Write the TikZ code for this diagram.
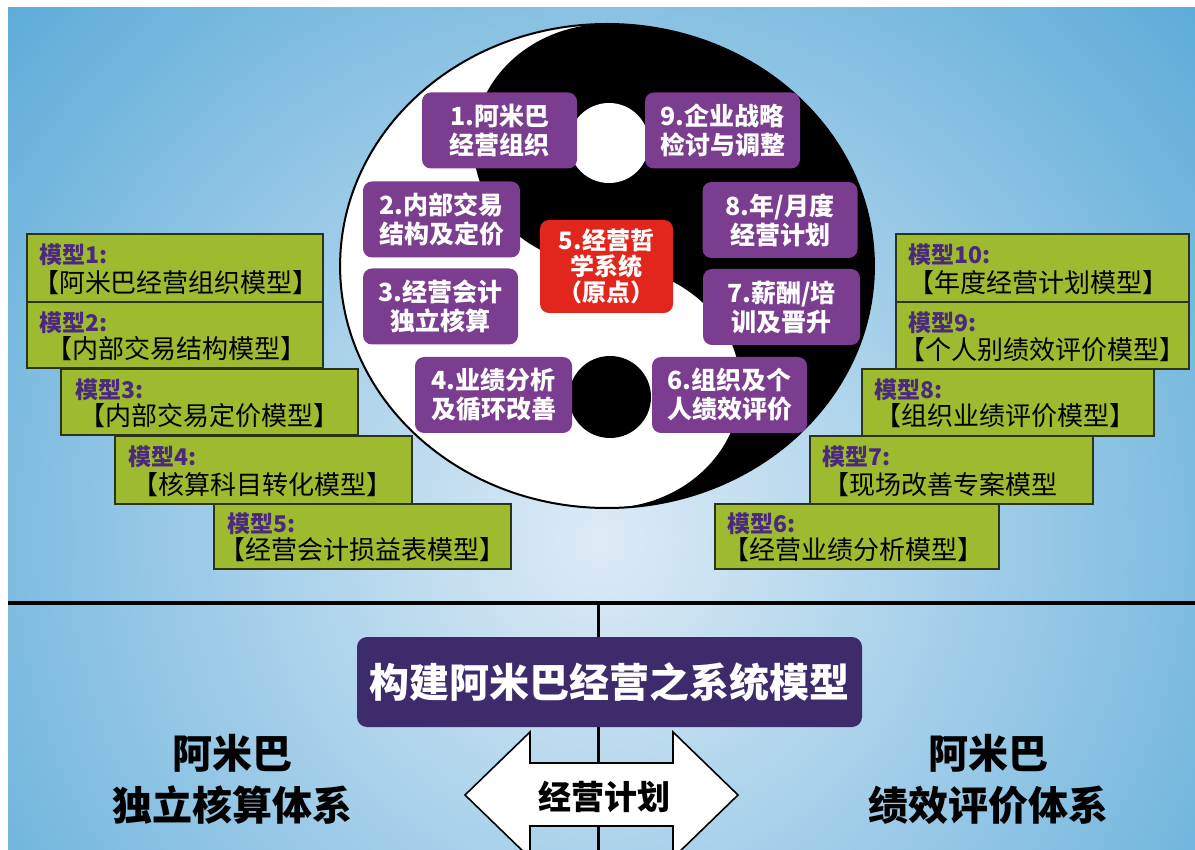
\documentclass[tikz,border=0pt]{standalone}
\usepackage{fontspec}
\setmainfont{Noto Sans CJK SC}
\definecolor{bgin}{HTML}{DDEBF6}
\definecolor{bgout}{HTML}{2590CC}
\definecolor{ypurple}{HTML}{7B3D8F}
\definecolor{yred}{HTML}{E2261D}
\definecolor{mpurple}{HTML}{3D2B6B}
\definecolor{mgreen}{HTML}{9EBB30}
\definecolor{mborder}{HTML}{2B3318}
\definecolor{mhead}{HTML}{4B2A7E}
\begin{document}
\begin{tikzpicture}[x=1pt,y=-1pt,
  ybox/.style={fill=ypurple, rounded corners=9pt, text=white,
    font=\fontsize{25}{29}\selectfont\bfseries, align=center, inner sep=0pt,
    minimum width=155pt, minimum height=76pt},
  mbox/.style={fill=mgreen, draw=mborder, line width=1.6pt, anchor=north west,
    inner sep=0pt, minimum width=#1},
  mhd/.style={anchor=west, text=mhead, font=\fontsize{23}{26}\selectfont\bfseries, inner sep=0pt},
  mtx/.style={text=black, font=\fontsize{26}{30}\selectfont, inner sep=0pt},
  systxt/.style={text=black, font=\fontsize{40}{52}\selectfont\bfseries, align=center, inner sep=0pt},
  connline/.style={draw=black, line width=3pt}
]
\useasboundingbox (0,0) rectangle (1195,850);
% background
\begin{scope}
  \clip (8,8) rectangle (1195,850);
  \shade[inner color=bgin, outer color=bgout] (600,540) circle (1150pt);
\end{scope}

% yin-yang
\begin{scope}[shift={(607,266)}, y=1pt, xscale=1.103]
  \filldraw[fill=white, draw=black, line width=2pt] (0,0) circle (242pt);
  \fill[black] (0,242) arc[start angle=90,end angle=-90,radius=242pt]
     arc[start angle=-90,end angle=90,radius=121pt]
     arc[start angle=270,end angle=90,radius=121pt] -- cycle;
\end{scope}
\fill[white] (609,143) circle (40pt);
\fill[black] (610,397) circle (41pt);

% purple boxes
\node[ybox] (b1) at (499.5,130.5) {1.阿米巴\\经营组织};
\node[ybox] (b9) at (722.5,130.5) {9.企业战略\\检讨与调整};
\node[ybox, minimum width=157pt] (b2) at (441.5,219.5) {2.内部交易\\结构及定价};
\node[ybox] (b8) at (780,220) {8.年/月度\\经营计划};
\node[ybox, fill=yred, minimum width=133pt, minimum height=93pt,
  font=\fontsize{24}{26}\selectfont\bfseries] (b5) at (606.5,266.5) {5.经营哲\\学系统\\（原点）};
\node[ybox] (b3) at (440.5,306.5) {3.经营会计\\独立核算};
\node[ybox, minimum width=157pt] (b7) at (781.5,307) {7.薪酬/培\\训及晋升};
\node[ybox, minimum width=157pt] (b4) at (493.5,395) {4.业绩分析\\及循环改善};
\node[ybox] (b6) at (729.5,395) {6.组织及个\\人绩效评价};

% left model boxes
\node[mbox=296pt, minimum height=68pt] (m1) at (26,233) {};
\node[mbox=296pt, minimum height=66pt] (m2) at (26,301) {};
\node[mbox=297pt, minimum height=66pt] (m3) at (60,368) {};
\node[mbox=297pt, minimum height=68pt] (m4) at (114,435) {};
\node[mbox=297pt, minimum height=65pt] (m5) at (213,503) {};
\node[mhd] (h1) at (39,255) {模型1:};
\node[mtx] (t1) at (176,283) {【阿米巴经营组织模型】};
\node[mhd] (h2) at (39,323) {模型2:};
\node[mtx] (t2) at (176,349) {【内部交易结构模型】};
\node[mhd] (h3) at (75,390) {模型3:};
\node[mtx] (t3) at (209,416) {【内部交易定价模型】};
\node[mhd] (h4) at (128,457) {模型4:};
\node[mtx] (t4) at (262,485) {【核算科目转化模型】};
\node[mhd] (h5) at (227,524) {模型5:};
\node[mtx] (t5) at (362,550) {【经营会计损益表模型】};

% right model boxes
\node[mbox=293pt, minimum height=68pt] (m10) at (895,233) {};
\node[mbox=293pt, minimum height=67pt] (m9) at (895,301) {};
\node[mbox=292pt, minimum height=67pt] (m8) at (861,368) {};
\node[mbox=283pt, minimum height=68pt] (m7) at (809,435) {};
\node[mbox=284pt, minimum height=65pt] (m6) at (714,503) {};
\node[mhd] (h10) at (908,255) {模型10:};
\node[mtx] (t10) at (1038,283) {【年度经营计划模型】};
\node[mhd] (h9) at (908,323) {模型9:};
\node[mtx] (t9) at (1042,350) {【个人别绩效评价模型】};
\node[mhd] (h8) at (874,390) {模型8:};
\node[mtx] (t8) at (1005,416) {【组织业绩评价模型】};
\node[mhd] (h7) at (822,457) {模型7:};
\node[mtx] (t7) at (940,485) {【现场改善专案模型};
\node[mhd] (h6) at (727,524) {模型6:};
\node[mtx] (t6) at (853,550) {【经营业绩分析模型】};

% lines
\coordinate (hl) at (8,603);
\coordinate (hr) at (1195,603);
\coordinate (vt) at (598,603);
\coordinate (vb) at (598,850);
\draw[connline, line width=4.5pt] (hl) -- (hr);
\draw[connline] (vt) -- (vb);

% main box
\node[fill=mpurple, rounded corners=10pt, minimum width=505pt, minimum height=90pt,
  text=white, font=\fontsize{40}{44}\selectfont\bfseries, inner sep=0pt] (main) at (609.5,682) {构建阿米巴经营之系统模型};

% double arrow
\filldraw[fill=white, draw=black, line width=1.6pt] (530,763) -- (530,732) -- (465,795) -- (530,858)
  -- (530,826) -- (673,826) -- (673,858) -- (738,795) -- (673,732) -- (673,763) -- cycle;
\node[font=\fontsize{33}{36}\selectfont\bfseries, inner sep=0pt] (plan) at (604,797) {经营计划};

% side texts
\node[systxt] (lsys) at (232,779) {阿米巴\\独立核算体系};
\node[systxt] (rsys) at (988,779) {阿米巴\\绩效评价体系};
\end{tikzpicture}
\end{document}
